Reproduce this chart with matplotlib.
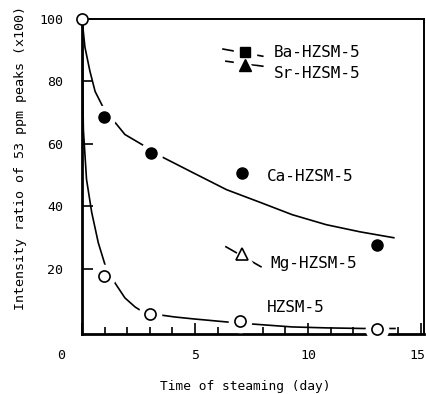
import matplotlib.pyplot as plt
from matplotlib.ticker import MultipleLocator
from matplotlib.transforms import ScaledTranslation

plt.rcParams['font.family'] = ['DejaVu Sans Mono']

# measured points
days = [0, 0.97, 3.0, 7.0, 13.05]
hzsm = [100, 17.7, 5.5, 3.2, 0.5]
ca_days = [0.97, 3.05, 7.1, 13.05]
ca_hzsm = [68.5, 57.2, 50.8, 27.7]
mg_pt = (7.1, 24.8)
ba_pt = (7.2, 89.4)
sr_pt = (7.2, 85.2)

# fitted curves as drawn in the original
hz_curve_x = [0, 0.02, 0.04, 0.06, 0.2, 0.43, 0.72, 1.02, 1.46, 1.9, 2.35, 2.7, 3.0,
              3.5, 4.1, 4.9, 6.4, 7.6, 9.3, 10.8, 12.5, 13.85]
hz_curve_y = [100, 90, 75, 64.6, 48.6, 38, 28.3, 21.2, 15.4, 10.6, 7.7, 6.1, 5.5,
              5.1, 4.5, 3.9, 2.9, 2.2, 1.3, 1.0, 0.8, 0.8]
ca_curve_x = [0, 0.13, 0.35, 0.58, 1.02, 1.46, 1.9, 2.65, 3.05, 3.6, 4.9, 6.4, 7.9,
              9.3, 10.8, 12.3, 13.8]
ca_curve_y = [100, 91, 83.3, 76.8, 70.5, 66.9, 63, 59.8, 57.8, 55.6, 50.8, 45.3, 41.2,
              37.3, 34.1, 31.8, 29.9]
mg_seg = ([6.37, 7.92], [27.0, 20.6])
ba_seg = ([6.24, 8.0], [90.4, 88.1])
sr_seg = ([6.37, 8.0], [86.5, 84.9])

fig = plt.figure(figsize=(4.26, 3.94), dpi=100)
ax = fig.add_axes([0.1925, 0.152, 0.8025, 0.7995])

lc = 'black'
lw = 1.2
ax.plot(hz_curve_x, hz_curve_y, color=lc, lw=lw)
ax.plot(ca_curve_x, ca_curve_y, color=lc, lw=lw)
for seg in (mg_seg, ba_seg, sr_seg):
    ax.plot(seg[0], seg[1], color=lc, lw=lw)

# white halos make the gaps where the curves meet the markers
halo = dict(ls='none', color='white', ms=16, zorder=3, clip_on=False)
ax.plot(days[1:], hzsm[1:], marker='o', **halo)
ax.plot(ca_days[:2], ca_hzsm[:2], marker='o', **halo)
ax.plot(*mg_pt, marker='^', **halo)
ax.plot(*ba_pt, marker='s', **halo)
ax.plot(*sr_pt, marker='^', **halo)

ax.plot(days, hzsm, 'o', ms=8, mfc='white', mec='black', mew=1.2, zorder=4, clip_on=False)
ax.plot(ca_days, ca_hzsm, 'o', ms=8, color='black', zorder=4)
ax.plot(*mg_pt, '^', ms=8, mfc='white', mec='black', mew=1.2, zorder=4)
ax.plot(*ba_pt, 's', ms=7, color='black', zorder=4)
ax.plot(*sr_pt, '^', ms=8, color='black', zorder=4)

tfs = 11.5
ax.text(8.5, 89.4, 'Ba-HZSM-5', fontsize=tfs, va='center')
ax.text(8.5, 82.6, 'Sr-HZSM-5', fontsize=tfs, va='center')
ax.text(8.2, 49.5, 'Ca-HZSM-5', fontsize=tfs, va='center')
ax.text(8.35, 21.5, 'Mg-HZSM-5', fontsize=tfs, va='center')
ax.text(8.2, 7.5, 'HZSM-5', fontsize=tfs, va='center')

ax.set_xlim(0, 15.13)
ax.set_ylim(-1, 100)
ax.set_xticks([0, 5, 10, 15])
ax.xaxis.set_minor_locator(MultipleLocator(1))
ax.set_yticks([20, 40, 60, 80, 100])
ax.tick_params(axis='x', which='major', direction='in', length=8, width=1.2, pad=11, labelsize=9.5)
ax.tick_params(axis='x', which='minor', direction='in', length=5, width=1.2)
ax.tick_params(axis='y', direction='in', length=8, width=1.2, pad=13.5, labelsize=9.5)
xt = ax.xaxis.get_major_ticks()
xt[0].label1.set_transform(xt[0].label1.get_transform() + ScaledTranslation(-0.21, 0, fig.dpi_scale_trans))
xt[3].label1.set_transform(xt[3].label1.get_transform() + ScaledTranslation(-0.04, 0, fig.dpi_scale_trans))

ax.spines['left'].set_linewidth(2)
ax.spines['bottom'].set_linewidth(2)
ax.spines['top'].set_linewidth(1.4)
ax.spines['right'].set_linewidth(1.4)

fig.text(0.575, 0.018, 'Time of steaming (day)', fontsize=9.3, ha='center', va='center')
fig.text(0.047, 0.599, 'Intensity ratio of 53 ppm peaks (x100)', fontsize=9.6,
         rotation=90, ha='center', va='center')

fig.savefig('out.png', dpi=100)
